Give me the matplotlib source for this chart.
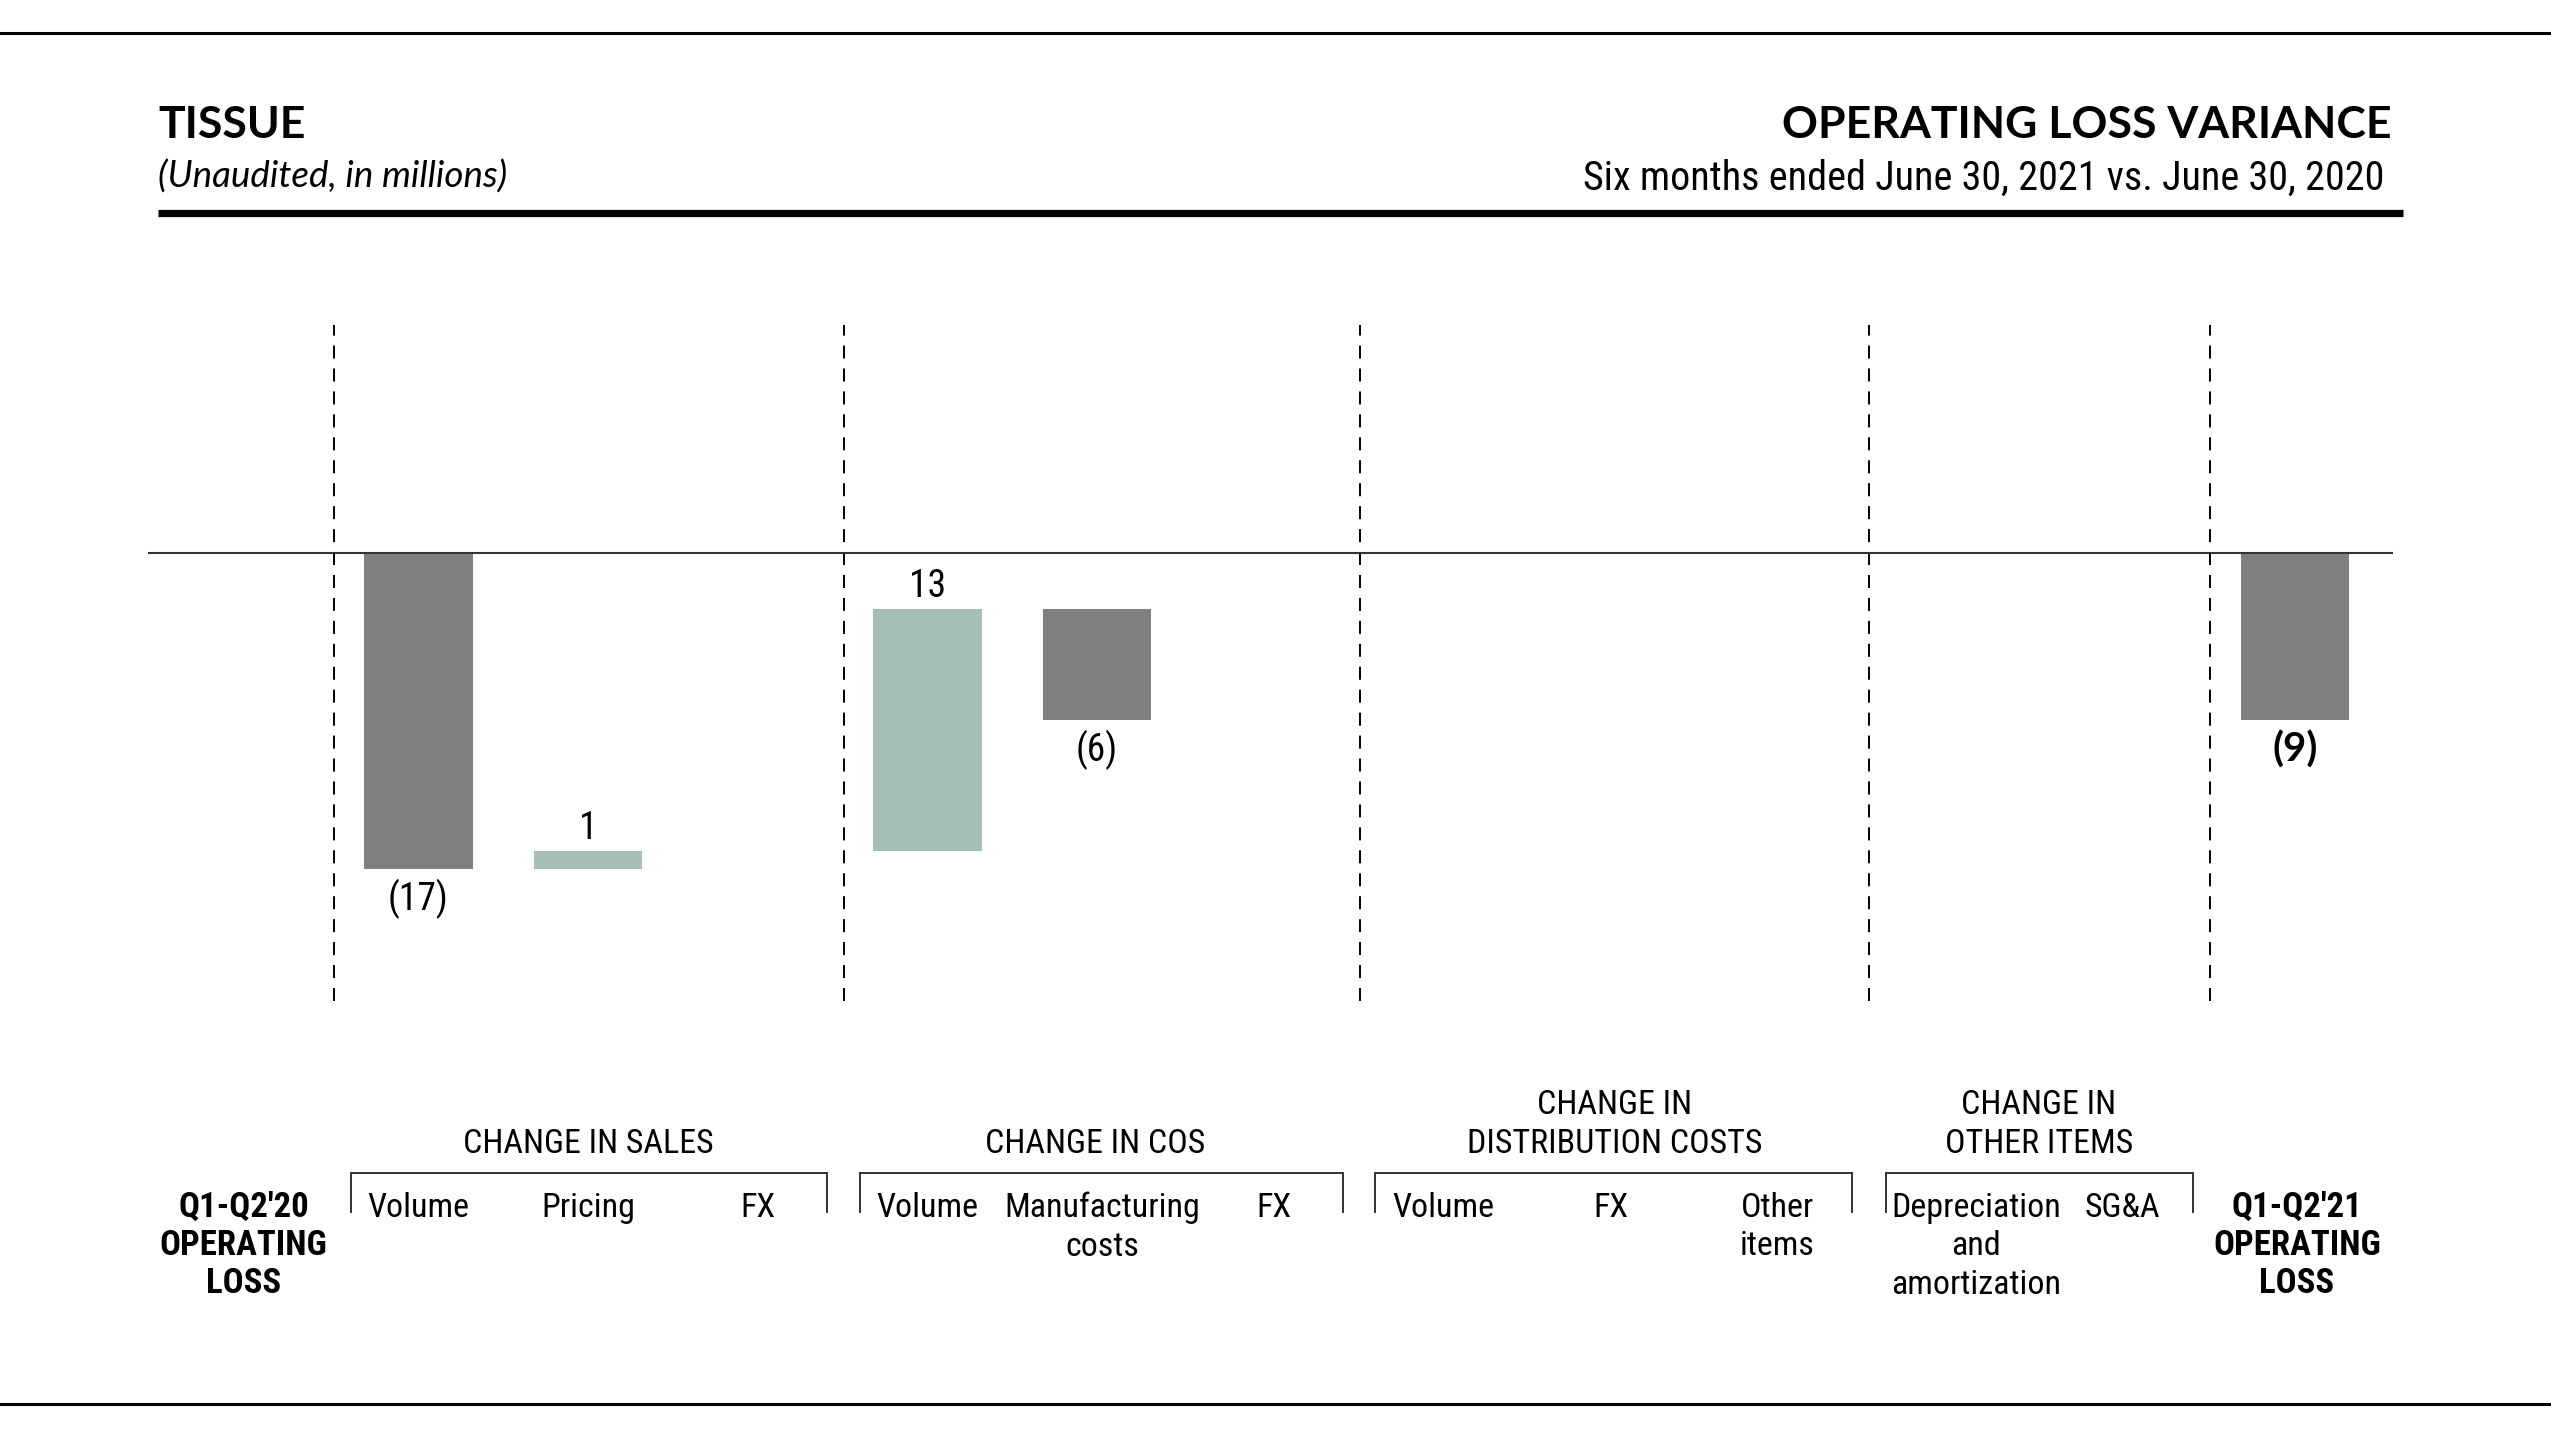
import matplotlib
matplotlib.use("Agg")
import matplotlib.pyplot as plt
from matplotlib import font_manager as fm
from matplotlib.transforms import blended_transform_factory

# ---------------- data ----------------
categories = ["Q1-Q2'20\nOPERATING\nLOSS", "Volume", "Pricing", "FX", "Volume",
              "Manufacturing\ncosts", "FX", "Volume", "FX", "Other\nitems",
              "Depreciation\nand\namortization", "SG&A", "Q1-Q2'21\nOPERATING\nLOSS"]
start_value = 0
variances = [-17, 1, 0, 13, -6, 0, 0, 0, 0, 0, 0]
end_value = -9
group_names = ["CHANGE IN SALES", "CHANGE IN COS", "CHANGE IN\nDISTRIBUTION COSTS",
               "CHANGE IN\nOTHER ITEMS"]

# ---------------- layout ----------------
W, H = 2551, 1434
slot_x = [0, 1, 2, 3, 4, 5, 6, 7, 8, 9, 10, 11, 12.06]
label_x = [-0.03, 1.0, 2.0, 3.0, 4.0, 5.03, 6.04, 7.04, 8.03, 9.01, 10.18, 11.04, 12.07]
divider_x = [0.5, 3.51, 6.55, 9.55, 11.56]
bracket_edges = [(0.6, 3.41), (3.6, 6.45), (6.64, 9.45), (9.65, 11.46)]
group_title_x = [2.0, 4.99, 8.05, 10.55]
bar_w = 0.64
DARK = "#808080"
GREEN = "#a5beb7"

names = {f.name for f in fm.fontManager.ttflist}
if "Liberation Sans Narrow" in names:
    NARROW = dict(family="Liberation Sans Narrow")
elif "Roboto Condensed" in names:
    NARROW = dict(family="Roboto Condensed")
elif any(f.name == "DejaVu Sans" and f.stretch == "condensed" for f in fm.fontManager.ttflist):
    NARROW = dict(family="DejaVu Sans", stretch="condensed")
else:
    NARROW = dict(family="Roboto")
HEAD = "Lato" if "Lato" in names else "DejaVu Sans"

fig = plt.figure(figsize=(W / 100, H / 100), dpi=100)
fig.patch.set_facecolor("white")


def fx(px):
    return px / W


def fy(py):
    return 1 - py / H


# axes for bars
ax = fig.add_axes([fx(148), fy(1001), fx(2393) - fx(148), fy(325) - fy(1001)])
ax.set_xlim(-0.594, 12.637)
px_per_unit = 18.6
ax.set_ylim(-(1001 - 553) / px_per_unit, (553 - 325) / px_per_unit)
ax.axis("off")

# waterfall bars
running = start_value
values_all = [start_value] + variances + [end_value]
last = len(values_all) - 1
for i, v in enumerate(values_all):
    x = slot_x[i]
    if i == 0 or i == last:
        bottom, height, color = 0, v, DARK
    else:
        bottom, height = running, v
        color = GREEN if v > 0 else DARK
        running += v
    if v == 0:
        continue
    ax.bar(x, height, bottom=bottom, width=bar_w, color=color, zorder=2)
    top = max(bottom, bottom + height)
    low = min(bottom, bottom + height)
    lab = f"({abs(v)})" if v < 0 else f"{v}"
    if v > 0:
        ax.annotate(lab, (x, top), xytext=(0, 16), textcoords="offset points",
                    ha="center", va="center", fontsize=27, **NARROW)
    elif i == last:
        ax.annotate(lab, (x, low), xytext=(0, -21), textcoords="offset points",
                    ha="center", va="center", fontsize=29, family=HEAD,
                    fontweight="bold")
    else:
        ax.annotate(lab, (x, low), xytext=(0, -21.5), textcoords="offset points",
                    ha="center", va="center", fontsize=27, **NARROW)

ax.axhline(0, color="#333333", lw=1.5, zorder=3)
for dx in divider_x:
    ax.axvline(dx, color="black", lw=1.4, linestyle=(0, (6.7, 5.1)), zorder=1)

# ---------------- header ----------------
fig.add_artist(plt.Line2D([0, 1], [fy(33), fy(33)], color="black", lw=2.2))
fig.add_artist(plt.Line2D([0, 1], [fy(1404), fy(1404)], color="black", lw=2.2))
fig.add_artist(plt.Line2D([fx(158), fx(2403)], [fy(213), fy(213)], color="black", lw=5.2,
                          solid_capstyle="butt"))
fig.text(fx(158), fy(125), "TISSUE", ha="left", va="center", fontsize=32,
         family=HEAD, fontweight="bold")
fig.text(fx(158), fy(177), "(Unaudited, in millions)", ha="left", va="center",
         fontsize=26.5, family=HEAD, style="italic")
fig.text(fx(2392), fy(125), "OPERATING LOSS VARIANCE", ha="right", va="center",
         fontsize=32, family=HEAD, fontweight="bold")
fig.text(fx(2384), fy(178), "Six months ended June 30, 2021 vs. June 30, 2020",
         ha="right", va="center", fontsize=28.9, **NARROW)

# ---------------- category labels ----------------
trans = blended_transform_factory(ax.transData, fig.transFigure)
for i, lab in enumerate(categories):
    if i == 0 or i == last:
        ax.text(label_x[i], fy(1191), lab, transform=trans, ha="center", va="top",
                fontsize=25, fontweight="bold", linespacing=1.2, **NARROW)
    else:
        ax.text(label_x[i], fy(1192), lab, transform=trans, ha="center", va="top",
                fontsize=24.5, linespacing=1.25, **NARROW)

# group brackets and titles
for name, (xl, xr), tx in zip(group_names, bracket_edges, group_title_x):
    ax.plot([xl, xl, xr, xr], [fy(1212), fy(1173), fy(1173), fy(1212)], transform=trans,
            color="#333333", lw=1.4, clip_on=False, solid_joinstyle="miter")
    ax.text(tx, fy(1160), name, transform=trans, ha="center", va="bottom",
            fontsize=24.5, linespacing=1.26, **NARROW)

fig.savefig("out.png", dpi=100, facecolor="white")
